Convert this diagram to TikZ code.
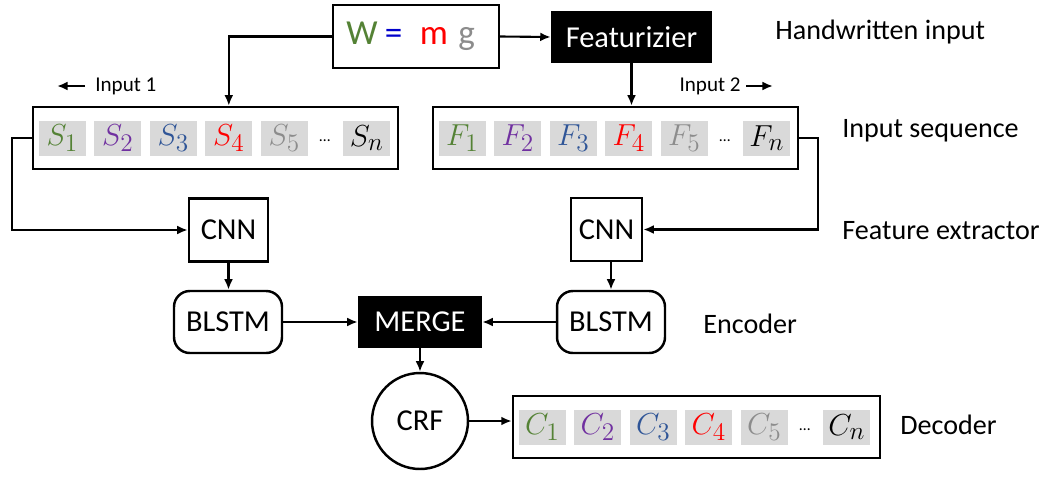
\documentclass[tikz,border=0pt]{standalone}
\usepackage{fontspec}
\setmainfont{Carlito}
\usepackage{xcolor}
\usepackage{tikz}
\usetikzlibrary{arrows.meta}

\definecolor{seqgreen}{HTML}{548235}
\definecolor{seqpurple}{HTML}{7030A0}
\definecolor{seqblue}{HTML}{2F5597}
\definecolor{seqred}{HTML}{FF0000}
\definecolor{seqgray}{HTML}{8C8C8C}
\definecolor{cellgray}{HTML}{D9D9D9}

\tikzset{
	plainbox/.style={draw, line width=1.4pt, fill=white, inner sep=0pt, font=\fontsize{17.3}{20}\selectfont},
	darkbox/.style={plainbox, fill=black, text=white},
	roundbox/.style={plainbox, rounded corners=9pt},
	seqbox/.style={draw, line width=1.4pt, minimum width=7.3cm, minimum height=1.24cm, inner sep=0pt},
	cell/.style={fill=cellgray, minimum width=0.94cm, minimum height=0.7cm, inner sep=0pt, font=\fontsize{19}{21}\selectfont},
	sidelabel/.style={anchor=west, inner sep=0pt, font=\fontsize{16}{19}\selectfont},
	smalllabel/.style={inner sep=0pt, font=\fontsize{12}{14}\selectfont},
	link/.style={>={Latex[length=6pt,width=5pt]}, ->, line width=1.2pt},
}

% cells of one sequence: box, letter, prefix
\newcommand{\seqcells}[3]{%
	\foreach \c [count=\k] in {seqgreen,seqpurple,seqblue,seqred,seqgray} {
		\pgfmathsetmacro{\ox}{30.5+55.5*(\k-1)}
		\node[cell, text=\c] (#3\k) at ([shift={(\ox,0)}]#1.west) {$#2_{\k}$};
	}
	\node[inner sep=0pt, font=\small] (#3dots) at ([shift={(293,3)}]#1.west) {\ldots};
	\node[cell] (#3n) at ([shift={(335,0)}]#1.west) {$#2_n$};
}

\begin{document}
\begin{tikzpicture}[x=0.02cm, y=-0.02cm]
	\useasboundingbox (0,0) rectangle (1047,477);

	% top row
	\node[plainbox, minimum width=3.32cm, minimum height=1.26cm, font=\fontsize{20}{24}\selectfont] (hw) at (416,36.5)
		{\hspace{-0.3em}{\color{seqgreen}W}\hspace{0.2em}{\color{blue!80!black}=}\hspace{0.5em}{\color{seqred}m}\hspace{0.3em}{\color{seqgray}g}};
	\node[darkbox, minimum width=3.18cm, minimum height=1cm] (feat) at (631.5,37) {Featurizier};

	% input sequences
	\node[seqbox] (seqS) at (215.5,138) {};
	\seqcells{seqS}{S}{s}
	\node[seqbox] (seqF) at (615.5,138) {};
	\seqcells{seqF}{F}{f}

	% feature extractors and encoders
	\node[plainbox, minimum width=1.58cm, minimum height=1.26cm] (cnnL) at (228.5,230) {CNN};
	\node[plainbox, minimum width=1.42cm, minimum height=1.26cm] (cnnR) at (606.5,229.5) {CNN};
	\node[roundbox, minimum width=2.16cm, minimum height=1.24cm] (blstmL) at (228,322) {BLSTM};
	\node[roundbox, minimum width=2.16cm, minimum height=1.24cm] (blstmR) at (611,322) {BLSTM};
	\node[darkbox, minimum width=2.44cm, minimum height=1cm] (merge) at (420,322) {MERGE};

	% decoder
	\node[plainbox, circle, minimum size=1.92cm] (crf) at (420,421) {CRF};
	\node[seqbox, minimum width=7.34cm] (seqC) at (696.5,427) {};
	\seqcells{seqC}{C}{c}

	% side labels
	\node[sidelabel] (lblHw) at (775,32) {Handwritten input};
	\node[sidelabel] (lblSeq) at (842,131) {Input sequence};
	\node[sidelabel] (lblFeat) at (842,231) {Feature extractor};
	\node[sidelabel] (lblEnc) at (703,324) {Encoder};
	\node[sidelabel] (lblDec) at (900,425) {Decoder};

	\node[smalllabel, anchor=west] (in1) at (95,86) {Input 1};
	\coordinate (in1tip) at (57,86);
	\node[smalllabel, anchor=east] (in2) at (741,86) {Input 2};
	\coordinate (in2tip) at (773,86);

	% connectors
	\draw[link, line width=1.7pt] (in1.west) ++(-10,0) -- (in1tip);
	\draw[link, line width=1.7pt] (in2.east) ++(5,0) -- (in2tip);
	\draw[link] (hw.west) -| (s4 |- seqS.north);
	\draw[link] (hw.east) -- (feat.west);
	\draw[link] (feat.south) -- (feat.south |- seqF.north);
	\draw[link] (seqS.west) -- ++(-20,0) |- (cnnL.west);
	\draw[link] (seqF.east) -- ++(19,0) |- (cnnR.east);
	\draw[link] (cnnL.south) -- (cnnL.south |- blstmL.north);
	\draw[link] (blstmR.north |- cnnR.south) -- (blstmR.north);
	\draw[link] (blstmL.east) -- (merge.west);
	\draw[link] (blstmR.west) -- (merge.east);
	\draw[link] (merge.south) -- (crf.north);
	\draw[link] (crf.east) -- (crf.east -| seqC.west);
\end{tikzpicture}
\end{document}
